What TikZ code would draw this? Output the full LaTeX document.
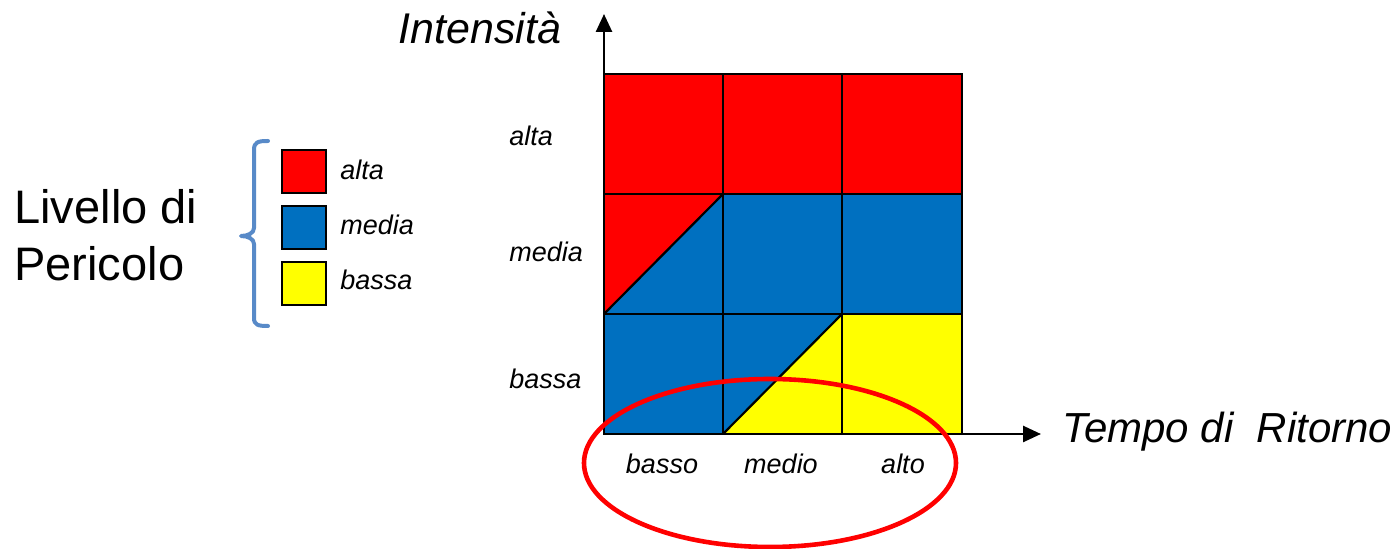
\documentclass[tikz,border=0pt]{standalone}
\usepackage{fontspec}
\setmainfont{Liberation Sans}
\usetikzlibrary{arrows.meta}
\definecolor{cred}{RGB}{255,0,0}
\definecolor{cblue}{RGB}{0,112,192}
\definecolor{cyellow}{RGB}{255,255,0}
\definecolor{cbrace}{RGB}{88,138,200}
\tikzset{
  cell/.style={draw=black, line width=1.1pt},
  axis/.style={draw=black, line width=1.3pt, -{Triangle[length=9pt,width=8pt]}},
  smalllbl/.style={font=\fontsize{13.5}{16}\selectfont\itshape, inner sep=0pt},
  biglbl/.style={font=\fontsize{23.5}{28}\selectfont, inner sep=0pt},
  axislbl/.style={font=\fontsize{21.5}{26}\selectfont\itshape, inner sep=0pt},
  legbox/.style={draw=black, line width=1pt, minimum width=22pt, minimum height=21.5pt, inner sep=0pt}
}
\begin{document}
\begin{tikzpicture}[x=0.5pt,y=-0.5pt]
\useasboundingbox (0,0) rectangle (1399,549);
% grid coordinates
\coordinate (O) at (604,434);
\coordinate (ytip) at (604,14);
\coordinate (xtip) at (1041,434);
% top row red
\fill[cred] (604,74) rectangle (962,194);
% middle row
\fill[cblue] (604,194) rectangle (962,314);
\fill[cred] (604,194) -- (723,194) -- (604,314) -- cycle;
% bottom row
\fill[cblue] (604,314) rectangle (842,434);
\fill[cyellow] (842,314) rectangle (962,434);
\fill[cyellow] (723,434) -- (842,314) -- (842,434) -- cycle;
% grid lines
\draw[cell] (604,74) rectangle (962,434);
\draw[cell] (723,74) -- (723,434);
\draw[cell] (842,74) -- (842,434);
\draw[cell] (604,194) -- (962,194);
\draw[cell] (604,314) -- (962,314);
\draw[cell] (604,314) -- (723,194);
\draw[cell] (723,434) -- (842,314);
% axes
\draw[axis] (O) -- (ytip);
\draw[axis] (O) -- (xtip);
% axis titles
\node[axislbl, anchor=base west] (tint) at (398,44) {Intensità};
\node[axislbl, font=\fontsize{21}{25}\selectfont\itshape, anchor=base west] (ttempo) at (1062,443) {Tempo di\ \ Ritorno};
% y labels
\node[smalllbl, anchor=base west] (ya) at (509,146) {alta};
\node[smalllbl, anchor=base west] (ym) at (509,262) {media};
\node[smalllbl, anchor=base west] (yb) at (509,389) {bassa};
% x labels
\node[smalllbl, anchor=base] (xb) at (662,474) {basso};
\node[smalllbl, anchor=base] (xm) at (781,474) {medio};
\node[smalllbl, anchor=base] (xa) at (903,474) {alto};
% ellipse
\draw[cred, line width=2.3pt] (770,463) ellipse [x radius=186, y radius=84];
% legend
\node[legbox, fill=cred] (l1) at (304,171.5) {};
\node[legbox, fill=cblue] (l2) at (304,227.5) {};
\node[legbox, fill=cyellow] (l3) at (304,283.5) {};
\node[smalllbl, anchor=base west] (l1t) at (340,180) {alta};
\node[smalllbl, anchor=base west] (l2t) at (340,235) {media};
\node[smalllbl, anchor=base west] (l3t) at (340,290) {bassa};
% brace
\draw[cbrace, line width=2pt, line cap=round, line join=round]
  (268,141) .. controls (258,141) and (254,142) .. (254,150)
  -- (254,228) .. controls (254,233) and (248,236) .. (241,236)
  .. controls (248,236) and (254,239) .. (254,244)
  -- (254,318) .. controls (254,325) and (258,326) .. (268,326);
% big label
\node[biglbl, anchor=base west] (lv1) at (14,224) {Livello di};
\node[biglbl, anchor=base west] (lv2) at (14,281) {Pericolo};
\end{tikzpicture}
\end{document}
